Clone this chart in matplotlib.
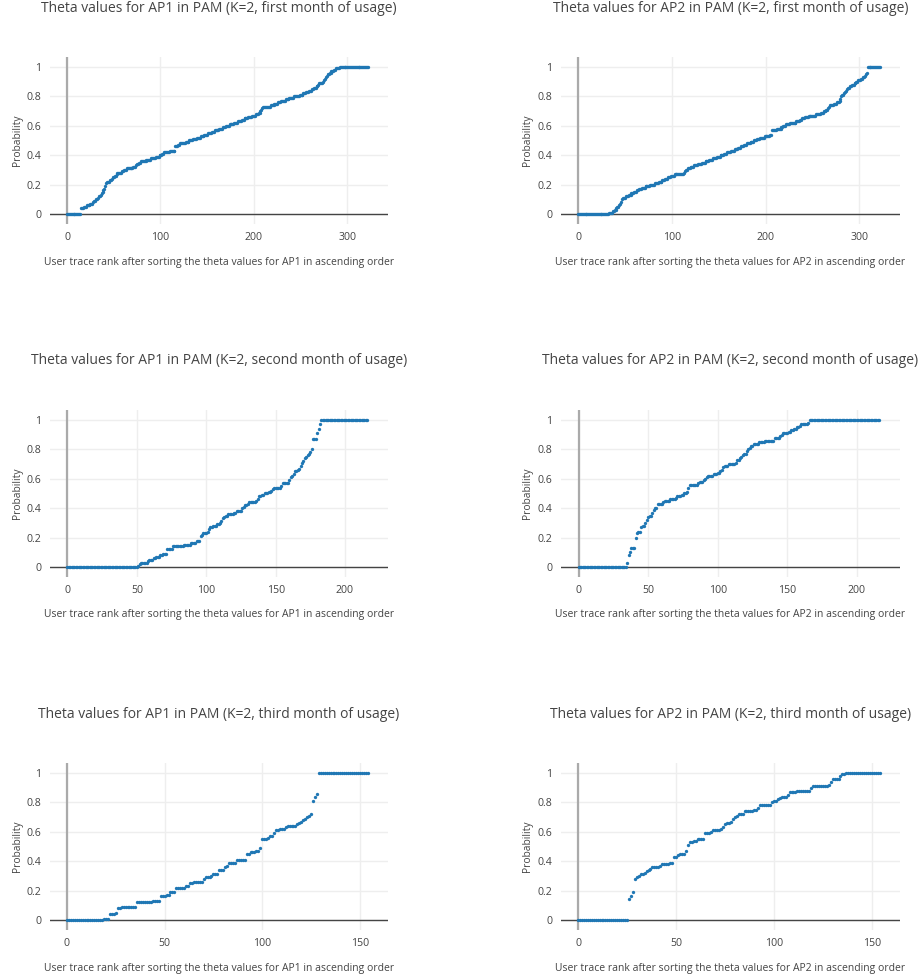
import matplotlib
matplotlib.use("Agg")
import matplotlib.pyplot as plt
import numpy as np

plt.rcParams['font.family'] = ['Open Sans', 'DejaVu Sans']

# theta values (in percent) sorted in ascending order
ap1_m1 = [0]*15 + [4,4,4,5,5,5,6, 6,6,6,7,7,7,8, 9,9,10,10,11,12,12,
    13,14,15,16,17,19,21, 22,22,22,23,23,24,25,
    25,26,26,27,28,28,28,28,28,29,29,
    30,30,30,31,31,31,31,31,31,31,32,32,32,33,
    34,34,35,35,36,36,36,36,36, 36,37,37,37,37,37,38,38,38,38,38,
    39,39,39,39,40,40,40,41,41, 42,42,42,42,42,42,43,43,43,43,43,43,
    46,46,46,47,47,48,48,48,48,48,48,49,49,
    49,49,50,50,50,50,51,51,51,51,52,52,52,52,
    53,53,53,53,54,54,54,54,55,55,55,55,56,56,56,57,57,57,
    57,57,58,58,58,58,59,59,59,60,60,60,60,61,61,61,61,61,
    62,62,62,62,63,63,63,63,64,64,64,65,65,65,65,66,66,66,
    66,67,67,67,67,68,68,68,69,69,70,71,72, 73,73,73,73,73,73,73,73,
    74,74,74,74,75,75,75,75,76,76,76,77,77,77,
    77,77,78,78,78,78,79,79,79,79,79,80,80,80,80,80,80,81,
    81,81,81,82,82,82,83,83,83,84,84,84,85,85,
    86,86,86,87,87,88,89,89,89, 89,90,91,92,93,94,95,
    95,96,96,97,97,97,98,98,99,99,99,99,100] + [100]*30

ap2_m1 = [0]*31 + [0,0,1,1,1,1,2,2,3,3, 4,5,5,6,7,8,10,11,
    11,11,12,12,12,13,13,13,14,14,14,15,15,15,
    16,16,17,17,17,18,18,18,18,19,19,
    19,19,19,20,20,20,20,20,21,21,21,21,22,22,22,22,23,23,23,24,24,
    24,25,25,25,26,26,26,26,27,27,27,27,27,27,27,27,27,27,
    28,29,30,30,31,31,31,32,32,32,32,
    33,33,33,33,34,34,34,34,35,35,35,35,36,36,36,36,37,37,
    37,37,38,38,38,38,39,39,39,39,40,40,40,40,41,41,41,42,
    42,42,42,43,43,43,43,44,44,44,44,45,45,45,46,46,46,47,
    47,47,48,48,48,48,49,49,49,49,50,50,50,51,51,51,52,
    52,52,52,52,53,53,53,53,53,53,54,54,
    57,57,57,57,57,58,58,58,58,58,
    59,59,60,60,60,61,61,61,61,62,62,62,62,62,
    62,62,63,63,63,63,64,64,65,65,65,66,66,66,66,
    67,67,67,67,67,67,67,67,68,68,68,68,68,
    69,69,69,70,70,70,71,71,72,73,74,74,74,74,
    75,75,75,76,76,76,77,78,80,81,81,82,
    83,84,85,86,86,87,87,88,88,88,89,89,90,90,91,91,91,
    92,92,93,93,94,95,96] + [100]*14

ap1_m2 = [0]*51 + [1,2,3,3,3,3,3,4, 5,5,5,6,6,7,7,7,8,8,9,9,9,
    12,12,12,12,14,14,14,14,14,14,14,14,
    15,15,15,15,15,16,16,16,16,18,18,
    18,21,22,23,23,23,24,26,27,27,
    28,28,28,29,29,30,31,33,34,35,35,
    36,36,36,36,37,37,38,38,38,38,40,
    41,42,42,43,44,44,44,44,44,45,46,48,48,49,
    49,50,50,50,51,51,52,53,54,54,54,54,54,55,
    57,57,57,57,57,59,61,62,63,65,65,66,
    67,69,71,72,74,75,76,77,78,80, 87,87,87,91,94,97] + [100]*34

ap2_m2 = [0]*35 + [3,8,10,13,13,13,20, 23,24,24,27,28,28,30,32,
    34,35,35,37,39,40,40,43,
    43,43,43,44,45,45,45,45,46,46,46,46,
    47,48,48,48,49,49,50,50,51,
    54,56,56,56,56,56,56,57,58,58,58,59,60,
    61,62,62,62,62,63,63,63,64,64,65,66,
    68,69,69,69,70,70,70,70,70,71,73,73,74,75,
    76,77,77,79,80,81,82,82,84,84,84,84,
    85,85,85,85,86,86,86,86,86,86,86,88,88,88,88,89,
    90,91,91,91,91,92,92,93,93,94,94,95,95,
    96,97,97,97,97,97,98] + [100]*51

ap1_m3 = [0]*19 + [1,1,1,4,4,4,5,8,8,
    9,9,9,9,9,9,9,9,12,12,12,12,12,12,12,12,
    13,13,13,13,16,16,16,17,17,19,19,19,
    22,22,22,22,22,23,23,25,25,26,26,26,26,26,
    28,29,29,29,30,31,31,31,34,34,34,36,37,
    39,39,39,39,41,41,41,41,41,45,45,46,46,46,47,47,49,
    55,55,55,56,57,57,59,61,61,62,62,62,63,
    64,64,64,64,64,65,66,67,68,69,70,71,72,
    81,84,86] + [100]*26

ap2_m3 = [0]*26 + [14,16,19,28,29,30,
    31,31,32,33,34,35,36,36,36,36,
    37,38,38,38,38,39,39,43,43,44,45,45,45,
    47,51,53,53,54,54,55,55,55,55,59,59,59,
    60,61,61,61,61,62,63,65,66,66,67,69,70,71,72,72,72,
    74,74,74,74,74,75,75,76,78,78,78,78,78,78,
    80,81,81,82,83,84,84,84,85,87,87,87,87,
    88,88,88,88,88,88,88,90,91,91,91,91,91,91,91,91,92,
    94,96,96,96,96,98,99,99] + [100]*18

series = [ap1_m1, ap2_m1, ap1_m2, ap2_m2, ap1_m3, ap2_m3]
aps = ["AP1", "AP2"]
months = ["first", "second", "third"]
xticks = [[0, 100, 200, 300], [0, 50, 100, 150, 200], [0, 50, 100, 150]]
xlims = [(-18.2, 343.5), (-12.6, 231), (-8.7, 164.4)]

W, H = 918, 980
fig = plt.figure(figsize=(W/100, H/100), dpi=100)

col_x = [(50, 388), (561, 900)]   # plot area left/right in pixels
row_y = [(57, 224), (410, 577), (763, 930)]  # plot area top/bottom in pixels
title_y = [9, 361, 715]
xlabel_y = [262, 614, 968]

for i, vals in enumerate(series):
    r, c = i // 2, i % 2
    x0, x1 = col_x[c]
    t, b = row_y[r]
    ax = fig.add_axes([x0/W, 1 - b/H, (x1-x0)/W, (b-t)/H])
    y = np.array(vals) / 100.0
    x = np.arange(len(y))
    ax.plot(x, y, "o", color="#1f77b4", markersize=2.4, markeredgewidth=0)
    ax.set_xlim(xlims[r])
    ax.set_ylim(-0.068, 1.068)
    ax.set_xticks(xticks[r])
    ax.set_yticks([0, 0.2, 0.4, 0.6, 0.8, 1])
    ax.set_yticklabels(["0", "0.2", "0.4", "0.6", "0.8", "1"])
    ax.grid(True, color="#eeeeee", lw=1)
    ax.set_axisbelow(True)
    for s in ax.spines.values():
        s.set_visible(False)
    ax.axvline(0, color="#aaaaaa", lw=1.6, zorder=1)
    ax.axhline(0, color="#444444", lw=1, zorder=1)
    ax.tick_params(length=0, labelsize=7.6, colors="#444444", pad=6)
    ap = aps[c]
    xc = (x0 + x1) / 2 / W
    fig.text(xc, 1 - title_y[r]/H,
             "Theta values for %s in PAM (K=2, %s month of usage)" % (ap, months[r]),
             ha="center", va="center", fontsize=10, color="#444444")
    fig.text(xc, 1 - xlabel_y[r]/H,
             "User trace rank after sorting the theta values for %s in ascending order" % ap,
             ha="center", va="center", fontsize=7.45, color="#444444")
    fig.text((x0 - 33)/W, 1 - (t + b)/2/H, "Probability", rotation=90,
             ha="center", va="center", fontsize=7.4, color="#444444")

plt.savefig("out.png", dpi=100)
